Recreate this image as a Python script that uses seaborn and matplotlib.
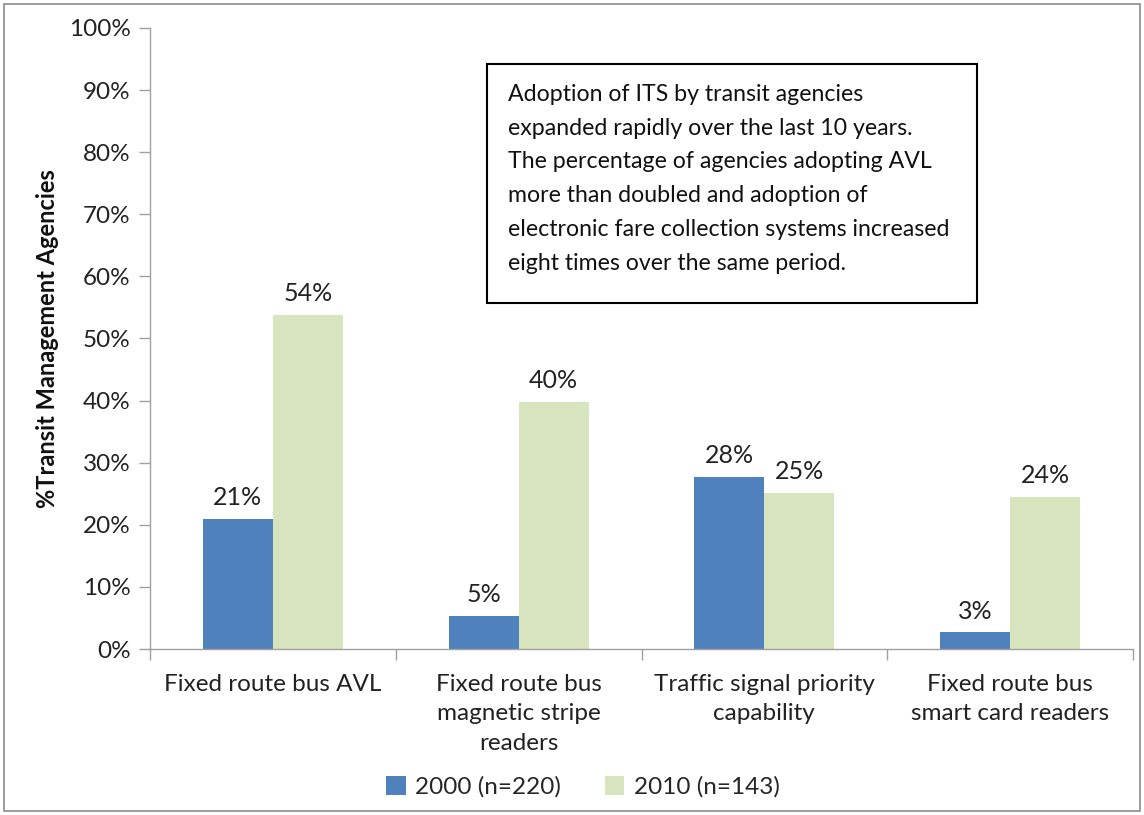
import matplotlib
matplotlib.use("Agg")
import matplotlib.pyplot as plt
import seaborn as sns
import pandas as pd
from matplotlib.patches import Rectangle, Patch

categories = ["Fixed route bus AVL", "Fixed route bus\nmagnetic stripe\nreaders",
              "Traffic signal priority\ncapability", "Fixed route bus\nsmart card readers"]
series_names = ["2000 (n=220)", "2010 (n=143)"]
values_2000 = [20.9, 5.3, 27.7, 2.7]
values_2010 = [53.8, 39.8, 25.1, 24.5]
yticks = [0, 10, 20, 30, 40, 50, 60, 70, 80, 90, 100]
note = ("Adoption of ITS by transit agencies\n"
        "expanded rapidly over the last 10 years.\n"
        "The percentage of agencies adopting AVL\n"
        "more than doubled and adoption of\n"
        "electronic fare collection systems increased\n"
        "eight times over the same period.")

df = pd.DataFrame({
    "category": categories * 2,
    "series": [series_names[0]] * 4 + [series_names[1]] * 4,
    "value": values_2000 + values_2010,
})

sns.set_theme(style="white")
plt.rcParams["font.family"] = ["Lato", "DejaVu Sans"]

colors = ["#4F81BD", "#D7E4BD"]
W, H = 1144, 815
fig = plt.figure(figsize=(W / 100, H / 100), dpi=100)
ax = fig.add_axes([150 / W, 1 - 649 / H, (1133 - 150) / W, (649 - 28) / H])

sns.barplot(data=df, x="category", y="value", hue="series", palette=colors,
            width=0.57, ax=ax, saturation=1, legend=False, edgecolor="none")

for cont in ax.containers:
    ax.bar_label(cont, labels=[f"{v:.0f}%" for v in cont.datavalues],
                 padding=7, fontsize=18, color="#222222")

ax.set_ylim(0, 100)
ax.set_xlim(-0.5, 3.5)
ax.set_yticks(yticks)
ax.set_yticklabels([f"{t}%" for t in yticks], fontsize=17.5, color="#222222")
ax.set_xticks(range(4))
ax.set_xticklabels(categories, fontsize=17.5, color="#222222", linespacing=1.5)
ax.tick_params(axis="x", which="major", length=0, pad=18)
ax.set_xticks([-0.5, 0.5, 1.5, 2.5, 3.5], minor=True)
ax.tick_params(axis="x", which="minor", length=8, color="#A0A0A0", width=1, direction="out")
ax.tick_params(axis="y", length=8, color="#A0A0A0", width=1, direction="out", pad=6)
ax.tick_params(axis="both", bottom=True, left=True)
ax.xaxis.set_tick_params(which="minor", bottom=True)
ax.set_xlabel("")
ax.set_ylabel("%Transit Management Agencies", fontsize=17, fontweight="bold",
              color="#111111", labelpad=7)
for s in ["top", "right"]:
    ax.spines[s].set_visible(False)
for s in ["left", "bottom"]:
    ax.spines[s].set_color("#A0A0A0")
    ax.spines[s].set_linewidth(1)

# annotation box
fig.patches.append(Rectangle((487 / W, 1 - 303 / H), (977 - 487) / W, (303 - 64) / H,
                             transform=fig.transFigure, fill=False,
                             edgecolor="black", linewidth=1.5))
fig.text(508 / W, 1 - 84 / H, note, fontsize=16.7, va="top", ha="left",
         color="#111111", linespacing=1.75)

# legend
handles = [Patch(facecolor=c, edgecolor="none") for c in colors]
fig.legend(handles, series_names, loc="center", bbox_to_anchor=(583 / W, 1 - 787 / H),
           ncol=2, frameon=False, fontsize=17.5, handlelength=0.8, handleheight=0.8,
           columnspacing=1.8, handletextpad=0.4)

# outer border
fig.patches.append(Rectangle((4 / W, 4 / H), (W - 8) / W, (H - 8) / H,
                             transform=fig.transFigure, fill=False,
                             edgecolor="#8C8C8C", linewidth=1.2))

fig.savefig("out.png", dpi=100)
